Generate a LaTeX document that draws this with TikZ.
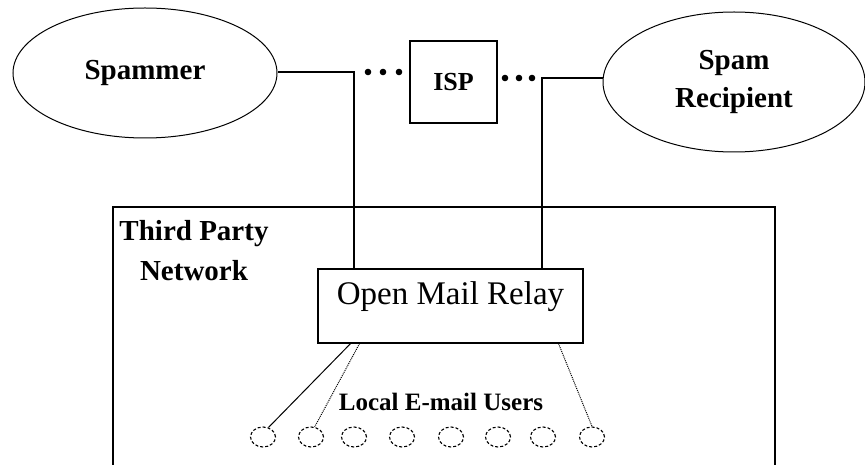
\documentclass[tikz,border=0pt]{standalone}
\usepackage{fontspec}
\setmainfont{Liberation Serif}
\usepackage{tikz}
\usetikzlibrary{shapes.geometric}

\tikzset{
	party/.style={draw, ellipse, line width=1pt, inner sep=0pt, font=\fontsize{29}{38}\selectfont\bfseries, align=center},
	boxnode/.style={draw, rectangle, line width=1.2pt, inner sep=0pt},
	wire/.style={line width=1.3pt},
	userdot/.style={draw, ellipse, densely dashed, line width=1.1pt, minimum width=25pt, minimum height=20pt, inner sep=0pt},
	userlink/.style={line width=1pt}
}

\begin{document}
\begin{tikzpicture}[x=1pt, y=1pt]
	\clip (0,0) rectangle (865,464);
	\fill[white] (0,0) rectangle (865,464);
	% the three parties on top
	\node[party, minimum width=264pt, minimum height=130pt] (spammer) at (145,391) {Spammer};
	\node[boxnode, minimum width=87pt, minimum height=82pt, font=\fontsize{26}{30}\selectfont\bfseries] (isp) at (453.5,382) {ISP};
	\node[party, minimum width=262pt, minimum height=140pt] (recipient) at (734,382) {Spam\\Recipient};
	% third party network
	\draw[line width=1.2pt] (113,-20) rectangle (775,257);
	\node[font=\fontsize{29}{40}\selectfont\bfseries, align=center] (network) at (194,213) {Third Party\\Network};
	\node[boxnode, minimum width=265pt, minimum height=74pt, text height=23pt, text depth=25pt, font=\fontsize{33}{38}\selectfont] (relay) at (450.5,158) {Open Mail Relay};
	% junctions and dots
	\coordinate (sj) at (354,392);
	\coordinate (rj) at (542,386);
	\draw[wire] (spammer.east |- sj) -- (sj) -- (sj |- relay.north);
	\draw[wire] (recipient.west |- rj) -- (rj) -- (rj |- relay.north);
	\foreach \x in {368,383,399} {\fill (\x,392) circle (3.3pt);}
	\foreach \x in {505,519,532} {\fill (\x,386) circle (3.3pt);}
	% local users
	\node[font=\fontsize{25}{30}\selectfont\bfseries] (users) at (441,62) {Local E-mail Users};
	\foreach \x [count=\i] in {263,311,354,402,451,498,543,592} {
		\node[userdot] (u\i) at (\x,27) {};
	}
	\draw[userlink] ([xshift=-100pt]relay.south) -- (u1.60);
	\draw[userlink, densely dotted] ([xshift=-91pt]relay.south) -- (u2.70);
	\draw[userlink, densely dotted] ([xshift=108pt]relay.south) -- (u8.north);
\end{tikzpicture}
\end{document}
